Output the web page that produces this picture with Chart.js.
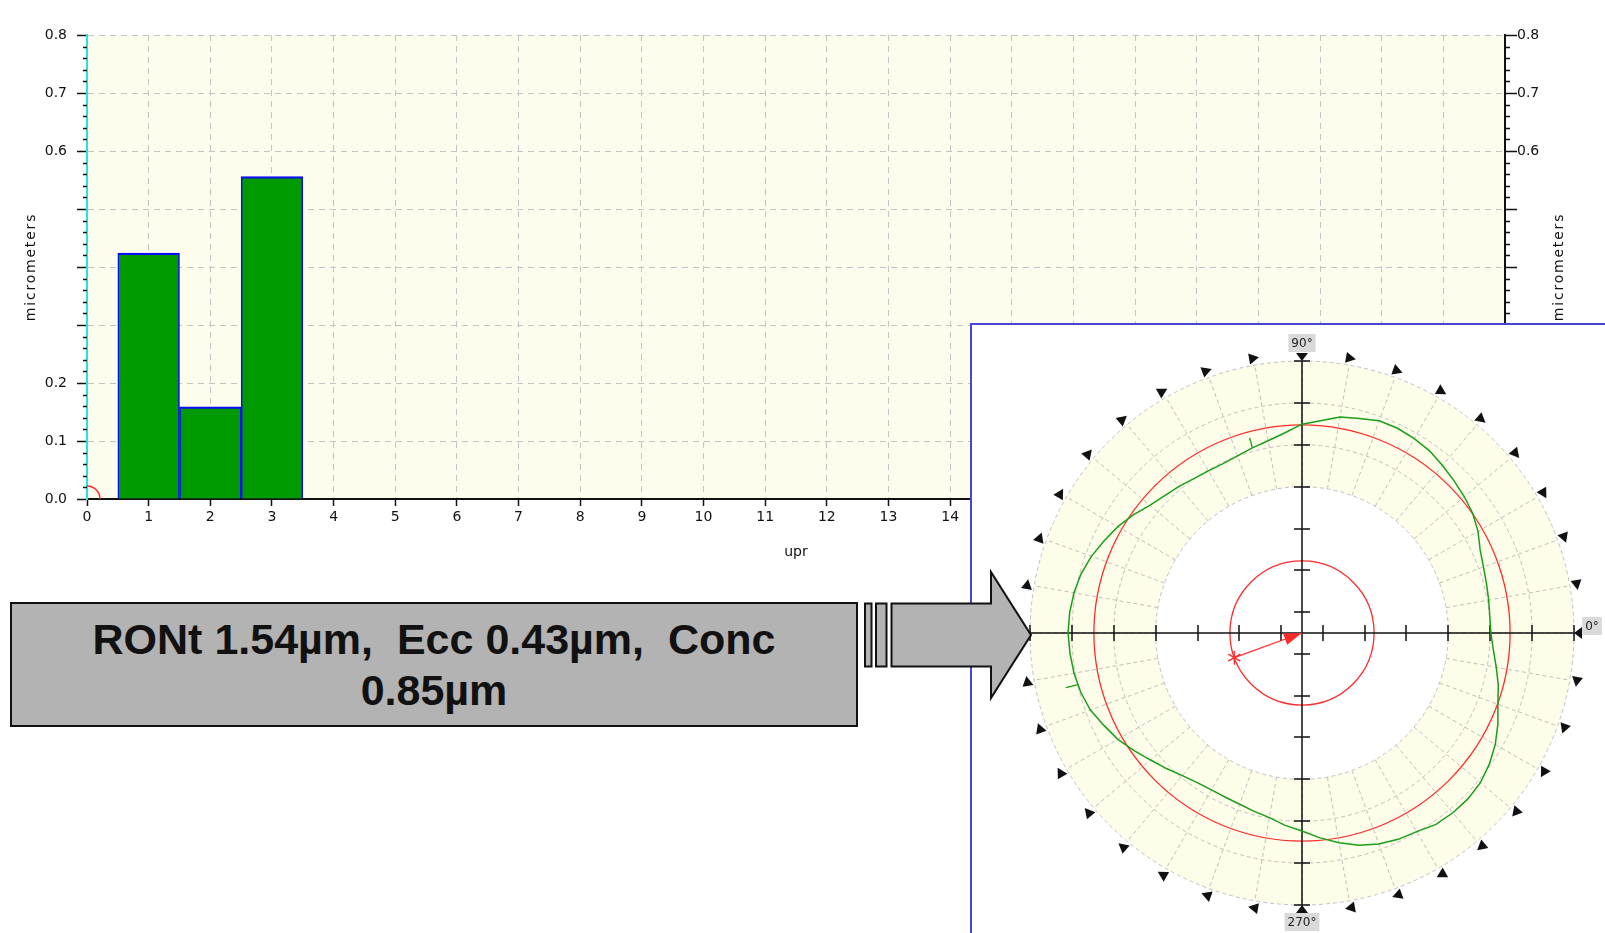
<!DOCTYPE html>
<html>
<head>
<meta charset="utf-8">
<title>Roundness – harmonic analysis</title>
<script src="https://cdn.jsdelivr.net/npm/chart.js@4.4.0/dist/chart.umd.min.js"></script>
<style>
  html, body { margin: 0; padding: 0; background: #fff; overflow: hidden; }
  body { width: 1605px; height: 933px; position: relative; }
  #upr { position: absolute; left: 0; top: 0; }
  #panel {
    position: absolute; left: 970px; top: 323px; width: 700px; height: 700px;
    background: #fff; border-left: 2px solid #4646d8; border-top: 2px solid #4646d8;
  }
  #polar { position: absolute; left: 973px; top: 327px; }
  #summary {
    position: absolute; left: 10px; top: 602px; width: 844px; height: 121px;
    border: 2px solid #111; background: #b3b3b3; color: #111;
    display: flex; align-items: center; justify-content: center; text-align: center;
    font: bold 43px "Liberation Sans", Arial, sans-serif; line-height: 51px; white-space: pre;
  }
  #pointer { position: absolute; left: 0; top: 0; pointer-events: none; }
</style>
</head>
<body>
<canvas id="upr" width="1605" height="570"></canvas>
<div id="panel"></div>
<canvas id="polar" width="632" height="606"></canvas>
<svg id="pointer" width="1605" height="933">
  <g fill="#b3b3b3" stroke="#111" stroke-width="2" stroke-linejoin="miter">
    <rect x="865" y="603.5" width="6.5" height="63"></rect>
    <rect x="876" y="603.5" width="10.5" height="63"></rect>
    <polygon points="891.5,603.5 991,603.5 991,572 1031,635 991,698 991,666.5 891.5,666.5"></polygon>
  </g>
</svg>
<div id="summary"></div>

<script>
// ---- harmonic analysis (undulations per revolution) ----
const UPR = [1, 2, 3];
const AMPLITUDE_UM = [0.424, 0.159, 0.556];
const UPR_MAX = 23;
const Y_TICK_LABELS = ['0.0', '0.1', '0.2', '', '', '', '0.6', '0.7', '0.8'];
const Y_TITLE = 'micrometers';
const X_TITLE = 'upr';

// ---- roundness profile: angle (deg, counter-clockwise from 0°) and deviation from LSC (µm) ----
const PROFILE_ANGLES = [
  0, 5, 10, 15, 20, 25, 30, 35, 40, 45, 50, 55, 60, 65, 70, 75, 80, 85,
  90, 95, 100, 105, 110, 115, 120, 125, 130, 135, 140, 145, 150, 155, 160, 165, 170, 175,
  180, 185, 190, 195, 200, 205, 210, 215, 220, 225, 230, 235, 240, 245, 250, 255, 260, 265,
  270, 275, 280, 285, 290, 295, 300, 305, 310, 315, 320, 325, 330, 335, 340, 345, 350, 355
];
const PROFILE_DEV_UM = [
  -0.55, -0.56, -0.53, -0.49, -0.43, -0.33, -0.14, 0.01, 0.11, 0.20, 0.30, 0.41, 0.47, 0.51, 0.51, 0.40, 0.32, 0.14,
  0.02, -0.21, -0.37, -0.47, -0.56, -0.61, -0.60, -0.56, -0.48, -0.40, -0.27, -0.06, 0.13, 0.29, 0.46, 0.59, 0.67, 0.72,
  0.74, 0.71, 0.67, 0.60, 0.49, 0.30, 0.13, -0.09, -0.30, -0.47, -0.63, -0.73, -0.77, -0.77, -0.74, -0.67, -0.59, -0.43,
  -0.29, -0.07, 0.14, 0.33, 0.47, 0.56, 0.61, 0.73, 0.76, 0.76, 0.71, 0.59, 0.43, 0.23, 0.01, -0.14, -0.31, -0.46
];
// narrow spikes on the trace
const SPIKE_ANGLES = [105, 193];
const SPIKE_BASE_UM = [-0.47, 0.62];
const SPIKE_TIP_UM = [-0.17, 0.98];

const RONT_UM = 1.54;
const ECC_UM = 0.43;
const ECC_ANGLE = 200;
const CONC_UM = 0.85;

const AXIS_LABEL_ANGLES = [0, 90, 270];
const AXIS_LABEL_TEXT = ['0°', '90°', '270°'];

// radial scale of the polar plot (µm, LSC at 0)
const RADIAL_MIN = -5.96;
const RADIAL_MAX = 1.83;
const RING_STEP_UM = 1.2;
const RING_COUNT = 7;
const BAND_RINGS = 4;
const ECC_RING_STEP_UM = 0.25;

const RING_VALUES = [];
for (let i = 0; i < RING_COUNT; i++) RING_VALUES.push(RADIAL_MAX - i * RING_STEP_UM);

const INK = '#111';
const GRID = '#c4c4c4';
const PLOT_BG = '#fdfdee';
const RED = '#ff2b2b';
const TRACE = '#1a9e1a';
const tickFont = { family: '"DejaVu Sans", sans-serif', size: 14 };

document.getElementById('summary').textContent =
  `RONt ${RONT_UM.toFixed(2)}µm,  Ecc ${ECC_UM.toFixed(2)}µm,  Conc\n${CONC_UM.toFixed(2)}µm`;

// ---------- bar chart ----------
const barDecor = {
  id: 'barDecor',
  beforeDraw(chart) {
    const { ctx, chartArea: a } = chart;
    ctx.save();
    ctx.fillStyle = PLOT_BG;
    ctx.fillRect(a.left, a.top, a.width, a.height);
    ctx.restore();
  },
  afterDraw(chart) {
    const { ctx, chartArea: a } = chart;
    const y = chart.scales.y;
    const x = chart.scales.x;
    ctx.save();
    // minor ticks every 0.02
    ctx.strokeStyle = INK;
    ctx.lineWidth = 1.5;
    ctx.beginPath();
    for (let k = 0; k <= 40; k++) {
      if (k % 5 === 0) continue;
      const py = Math.round(y.getPixelForValue(k * 0.02)) + 0.5;
      ctx.moveTo(a.left - 4, py); ctx.lineTo(a.left, py);
      ctx.moveTo(a.right, py); ctx.lineTo(a.right + 5, py);
    }
    ctx.stroke();

    // axis titles, both reading bottom to top
    ctx.fillStyle = INK;
    ctx.font = '14px "DejaVu Sans"';
    ctx.letterSpacing = '1.8px';
    ctx.textAlign = 'center';
    ctx.textBaseline = 'middle';
    for (const tx of [a.left - 56, a.right + 54]) {
      ctx.save();
      ctx.translate(tx, (a.top + a.bottom) / 2);
      ctx.rotate(-Math.PI / 2);
      ctx.fillText(Y_TITLE, 0, 0);
      ctx.restore();
    }

    // small red arc at the origin
    ctx.strokeStyle = RED;
    ctx.lineWidth = 1.5;
    ctx.beginPath();
    ctx.arc(x.getPixelForValue(0), y.getPixelForValue(0), 13, -Math.PI / 2, 0);
    ctx.stroke();
    ctx.restore();
  }
};

const yLabel = (v) => Y_TICK_LABELS[Math.round(v * 10)] ?? '';

new Chart(document.getElementById('upr'), {
  type: 'bar',
  data: {
    datasets: [{
      data: UPR.map((u, i) => ({ x: u, y: AMPLITUDE_UM[i] })),
      backgroundColor: '#009a00',
      borderColor: '#0a0aff',
      borderWidth: { left: 1.6, right: 1.6, top: 2.2, bottom: 0 },
      borderSkipped: false,
      barPercentage: 1,
      categoryPercentage: 1
    }]
  },
  options: {
    responsive: false,
    animation: false,
    layout: { padding: { top: 35 } },
    plugins: { legend: { display: false }, tooltip: { enabled: false } },
    scales: {
      x: {
        type: 'linear',
        min: 0,
        max: UPR_MAX,
        offset: false,
        ticks: { stepSize: 1, autoSkip: false, maxRotation: 0, color: INK, font: tickFont, padding: 3,
                 callback: (v) => String(v) },
        grid: { offset: false, color: GRID, lineWidth: 1, tickLength: 7, tickColor: INK, tickWidth: 1.5, tickBorderDash: [] },
        border: { color: INK, width: 2, dash: [6, 5] },
        title: { display: true, text: X_TITLE, color: INK, font: tickFont, padding: { top: 0, bottom: 9 } },
        afterFit: (s) => { s.height = 71; }
      },
      y: {
        position: 'left',
        min: 0,
        max: 0.8,
        ticks: { stepSize: 0.1, color: INK, font: tickFont, padding: 10, callback: yLabel },
        grid: { color: GRID, lineWidth: 1, tickLength: 10, tickColor: INK, tickWidth: 1.5, tickBorderDash: [] },
        border: { color: '#22e4e4', width: 2, dash: [6, 5] },
        afterFit: (s) => { s.width = 87; }
      },
      y2: {
        position: 'right',
        min: 0,
        max: 0.8,
        ticks: { stepSize: 0.1, color: INK, font: tickFont, padding: 0, callback: yLabel },
        grid: { drawOnChartArea: false, tickLength: 12, tickColor: INK, tickWidth: 1.5, tickBorderDash: [] },
        border: { color: INK, width: 2 },
        afterFit: (s) => { s.width = 100; }
      }
    }
  },
  plugins: [barDecor]
});

// ---------- polar roundness plot ----------
const rad = (deg) => deg * Math.PI / 180;

const polarDecor = {
  id: 'polarDecor',
  beforeDatasetsDraw(chart) {
    const { ctx } = chart;
    const r = chart.scales.r;
    const cx = r.xCenter, cy = r.yCenter;
    const dist = (v) => r.getDistanceFromCenterForValue(v);
    const pt = (deg, d) => [cx + d * Math.cos(rad(deg)), cy - d * Math.sin(rad(deg))];
    const outer = dist(RING_VALUES[0]);
    const inner = dist(RING_VALUES[BAND_RINGS - 1]);

    ctx.save();
    // shaded band
    ctx.beginPath();
    ctx.arc(cx, cy, outer, 0, Math.PI * 2);
    ctx.arc(cx, cy, inner, 0, Math.PI * 2, true);
    ctx.fillStyle = '#fdfde9';
    ctx.fill();

    // dashed rings and spokes
    ctx.strokeStyle = '#c0c0c0';
    ctx.lineWidth = 1;
    ctx.setLineDash([4, 3]);
    for (let i = 0; i < BAND_RINGS; i++) {
      ctx.beginPath();
      ctx.arc(cx, cy, dist(RING_VALUES[i]), 0, Math.PI * 2);
      ctx.stroke();
    }
    ctx.beginPath();
    for (let a = 0; a < 360; a += 10) {
      const [x1, y1] = pt(a, inner);
      const [x2, y2] = pt(a, outer);
      ctx.moveTo(x1, y1); ctx.lineTo(x2, y2);
    }
    ctx.stroke();
    ctx.setLineDash([]);

    // least-squares circle and eccentricity circle
    ctx.strokeStyle = RED;
    ctx.lineWidth = 1.3;
    ctx.beginPath();
    ctx.arc(cx, cy, dist(0), 0, Math.PI * 2);
    ctx.stroke();
    const ringPx = dist(RING_VALUES[0]) - dist(RING_VALUES[1]);
    const eccPx = ECC_UM / ECC_RING_STEP_UM * ringPx;
    ctx.beginPath();
    ctx.arc(cx, cy, eccPx, 0, Math.PI * 2);
    ctx.stroke();

    // cross axes with ticks
    ctx.strokeStyle = INK;
    ctx.lineWidth = 1.5;
    ctx.beginPath();
    ctx.moveTo(cx - outer, cy); ctx.lineTo(cx + outer, cy);
    ctx.moveTo(cx, cy - outer); ctx.lineTo(cx, cy + outer);
    for (const v of RING_VALUES) {
      const p = Math.round(dist(v));
      ctx.moveTo(cx + p, cy - 8); ctx.lineTo(cx + p, cy + 8);
      ctx.moveTo(cx - p, cy - 8); ctx.lineTo(cx - p, cy + 8);
      ctx.moveTo(cx - 8, cy - p); ctx.lineTo(cx + 8, cy - p);
      ctx.moveTo(cx - 8, cy + p); ctx.lineTo(cx + 8, cy + p);
    }
    ctx.stroke();

    // axis end arrowheads, pointing inward
    ctx.fillStyle = INK;
    for (const a of [0, 90, 180, 270]) {
      const [tx, ty] = pt(a, outer);
      const [bx, by] = pt(a, outer + 8);
      const nx = -Math.sin(rad(a)), ny = -Math.cos(rad(a));
      ctx.beginPath();
      ctx.moveTo(tx, ty);
      ctx.lineTo(bx + nx * 6, by + ny * 6);
      ctx.lineTo(bx - nx * 6, by - ny * 6);
      ctx.closePath();
      ctx.fill();
    }

    // angle markers every 10°
    for (let a = 10; a < 360; a += 10) {
      if (a % 90 === 0) continue;
      const [mx, my] = pt(a, outer + 7);
      const tx = Math.sin(rad(a)), ty = Math.cos(rad(a));   // clockwise tangent on screen
      const nx = Math.cos(rad(a)), ny = -Math.sin(rad(a));
      ctx.beginPath();
      ctx.moveTo(mx + tx * 5.5, my + ty * 5.5);
      ctx.lineTo(mx - tx * 4.5 + nx * 5.5, my - ty * 4.5 + ny * 5.5);
      ctx.lineTo(mx - tx * 4.5 - nx * 5.5, my - ty * 4.5 - ny * 5.5);
      ctx.closePath();
      ctx.fill();
    }

    // axis angle labels
    ctx.font = '12px "DejaVu Sans"';
    ctx.textAlign = 'center';
    ctx.textBaseline = 'middle';
    AXIS_LABEL_ANGLES.forEach((a, i) => {
      const text = AXIS_LABEL_TEXT[i];
      let lx, ly;
      if (a === 0) { lx = cx + outer + 18; ly = cy - 7; }
      else if (a === 90) { lx = cx; ly = cy - outer - 18; }
      else { lx = cx; ly = cy + outer + 17; }
      const w = ctx.measureText(text).width + 6;
      ctx.fillStyle = '#d9d9d9';
      ctx.fillRect(lx - w / 2, ly - 9, w, 18);
      ctx.fillStyle = '#222';
      ctx.fillText(text, lx, ly + 0.5);
    });
    ctx.restore();
  },
  afterDatasetsDraw(chart) {
    const { ctx } = chart;
    const r = chart.scales.r;
    const cx = r.xCenter, cy = r.yCenter;
    const dist = (v) => r.getDistanceFromCenterForValue(v);
    const pt = (deg, d) => [cx + d * Math.cos(rad(deg)), cy - d * Math.sin(rad(deg))];

    ctx.save();
    // spikes on the measured trace
    ctx.strokeStyle = TRACE;
    ctx.lineWidth = 1.3;
    ctx.beginPath();
    SPIKE_ANGLES.forEach((a, i) => {
      const [x1, y1] = pt(a, dist(SPIKE_BASE_UM[i]));
      const [x2, y2] = pt(a, dist(SPIKE_TIP_UM[i]));
      ctx.moveTo(x1, y1); ctx.lineTo(x2, y2);
    });
    ctx.stroke();

    // eccentricity vector, from the offset point to the centre
    const ringPx = dist(RING_VALUES[0]) - dist(RING_VALUES[1]);
    const eccPx = ECC_UM / ECC_RING_STEP_UM * ringPx;
    const [ex, ey] = pt(ECC_ANGLE, eccPx);
    const ang = Math.atan2(cy - ey, cx - ex);
    ctx.strokeStyle = RED;
    ctx.fillStyle = RED;
    ctx.lineWidth = 1.3;
    ctx.beginPath();
    ctx.moveTo(ex, ey); ctx.lineTo(cx, cy);
    ctx.stroke();
    ctx.beginPath();
    ctx.moveTo(cx, cy);
    ctx.lineTo(cx - 18 * Math.cos(ang) + 6 * Math.sin(ang), cy - 18 * Math.sin(ang) - 6 * Math.cos(ang));
    ctx.lineTo(cx - 18 * Math.cos(ang) - 6 * Math.sin(ang), cy - 18 * Math.sin(ang) + 6 * Math.cos(ang));
    ctx.closePath();
    ctx.fill();
    // asterisk at the offset point
    ctx.beginPath();
    for (const a of [0, 60, 120]) {
      const dx = 7 * Math.cos(rad(a + 30)), dy = 7 * Math.sin(rad(a + 30));
      ctx.moveTo(ex - dx, ey - dy); ctx.lineTo(ex + dx, ey + dy);
    }
    ctx.stroke();
    ctx.restore();
  }
};

// radar index 0 sits at 0° and runs clockwise, so the profile is read backwards
const radarLabels = PROFILE_ANGLES.map((_, i) => PROFILE_ANGLES[(PROFILE_ANGLES.length - i) % PROFILE_ANGLES.length] + '°');
const radarValues = PROFILE_DEV_UM.map((_, i) => PROFILE_DEV_UM[(PROFILE_DEV_UM.length - i) % PROFILE_DEV_UM.length]);

new Chart(document.getElementById('polar'), {
  type: 'radar',
  data: {
    labels: radarLabels,
    datasets: [{
      data: radarValues,
      borderColor: TRACE,
      borderWidth: 1.5,
      pointRadius: 0,
      fill: false,
      tension: 0
    }]
  },
  options: {
    responsive: false,
    animation: false,
    layout: { padding: { left: 57, top: 34, right: 30, bottom: 27 } },
    plugins: { legend: { display: false }, tooltip: { enabled: false } },
    scales: {
      r: {
        min: RADIAL_MIN,
        max: RADIAL_MAX,
        startAngle: 90,
        beginAtZero: false,
        grid: { display: false },
        angleLines: { display: false },
        ticks: { display: false },
        pointLabels: { display: false }
      }
    }
  },
  plugins: [polarDecor]
});
</script>
</body>
</html>
